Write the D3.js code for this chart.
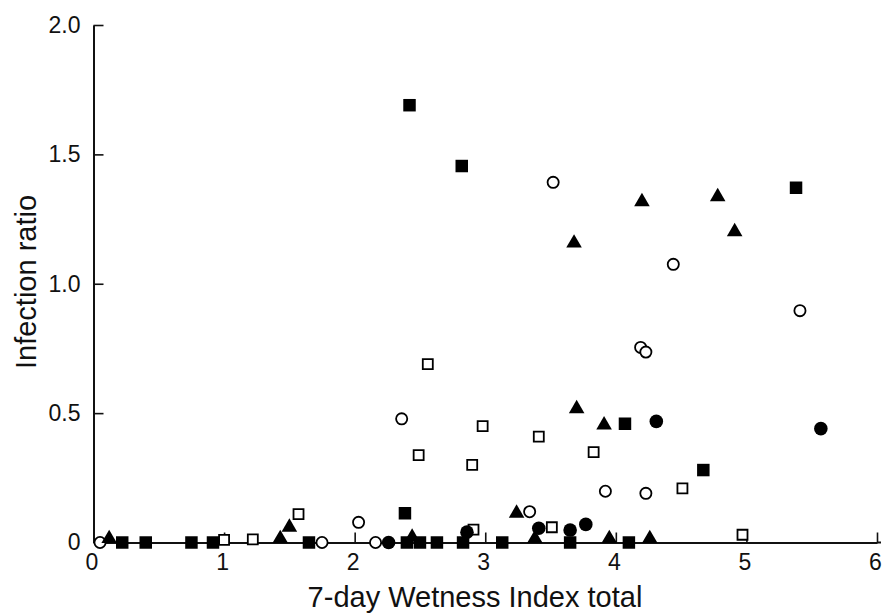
<!DOCTYPE html>
<html>
<head>
<meta charset="utf-8">
<script src="https://cdn.jsdelivr.net/npm/d3@7"></script>
<style>
  body { margin: 0; background: #fff; }
  #chart { width: 887px; height: 616px; }
  .axis text { font-family: "Liberation Sans", Arial, sans-serif; fill: #111; }
  .axis path, .axis line { stroke: #111; }
  .title { font-family: "Liberation Sans", Arial, sans-serif; fill: #111; }
</style>
</head>
<body>
<div id="chart"></div>
<script>
// data
var xTicks = [0, 1, 2, 3, 4, 5, 6];
var yTicks = [0, 0.5, 1.0, 1.5, 2.0];
var yTickLabels = ['0', '0.5', '1.0', '1.5', '2.0'];

var openCircleX = [0.05, 1.75, 2.03, 2.16, 2.36, 3.34, 3.52, 3.92, 4.19, 4.23, 4.23, 4.44, 5.41];
var openCircleY = [0, 0, 0.078, 0, 0.478, 0.119, 1.392, 0.198, 0.754, 0.736, 0.19, 1.075, 0.896];

var openSquareX = [1.0, 1.22, 1.57, 2.49, 2.56, 2.90, 2.91, 2.98, 3.41, 3.51, 3.83, 4.51, 4.97];
var openSquareY = [0.01, 0.012, 0.11, 0.338, 0.689, 0.30, 0.05, 0.45, 0.409, 0.059, 0.349, 0.209, 0.03];

var filledSquareX = [0.22, 0.40, 0.75, 0.915, 1.65, 2.385, 2.40, 2.50, 2.63, 2.42, 2.82, 2.83, 3.13, 3.65, 4.07, 4.10, 4.67, 5.38];
var filledSquareY = [0, 0, 0, 0, 0, 0.113, 0, 0, 0, 1.69, 1.455, 0, 0, 0, 0.459, 0, 0.28, 1.371];

var filledTriangleX = [0.12, 1.43, 1.50, 2.44, 3.24, 3.38, 3.68, 3.70, 3.91, 3.95, 4.20, 4.26, 4.78, 4.91];
var filledTriangleY = [0.015, 0.015, 0.059, 0.02, 0.113, 0.015, 1.157, 0.517, 0.454, 0.015, 1.317, 0.015, 1.336, 1.201];

var filledCircleX = [2.26, 2.86, 3.41, 3.65, 3.77, 4.31, 5.57];
var filledCircleY = [0, 0.04, 0.055, 0.048, 0.07, 0.468, 0.44];

var width = 887;
var height = 616;

var svg = d3.select('#chart')
    .append('svg')
    .attr('width', width)
    .attr('height', height);

var x_scale = d3.scaleLinear()
    .domain([0, 6])
    .range([93.5, 877]);

var y_scale = d3.scaleLinear()
    .domain([0, 2])
    .range([542.5, 25]);

// y axis, ticks point inward
var y_axis = d3.axisLeft(y_scale)
    .tickValues(yTicks)
    .tickFormat(function(d, i) { return yTickLabels[i]; })
    .tickSizeInner(-10)
    .tickSizeOuter(0)
    .tickPadding(13);

svg.append('g')
    .attr('class', 'y axis')
    .attr('transform', 'translate(' + x_scale(0) + ',0)')
    .call(y_axis);

var x_axis = d3.axisBottom(x_scale)
    .tickValues(xTicks)
    .tickFormat(d3.format('d'))
    .tickSizeInner(-10)
    .tickSizeOuter(0)
    .tickPadding(11);

svg.append('g')
    .attr('class', 'x axis')
    .attr('transform', 'translate(0,' + y_scale(0) + ')')
    .call(x_axis);

// x axis line runs a bit past the last tick
svg.append('line')
    .attr('x1', x_scale(6))
    .attr('x2', x_scale(6) + 4)
    .attr('y1', y_scale(0))
    .attr('y2', y_scale(0))
    .attr('stroke', '#111')
    .attr('stroke-width', 2);

svg.selectAll('.axis .domain').attr('stroke-width', 2);
svg.selectAll('.axis .tick line').attr('stroke-width', 1.6);
svg.selectAll('.y.axis text').style('font-size', '23px');
svg.selectAll('.x.axis text').style('font-size', '23px').attr('dx', -2);

// axis titles
svg.append('text')
    .attr('class', 'title')
    .attr('x', 475)
    .attr('y', 607)
    .attr('text-anchor', 'middle')
    .style('font-size', '29px')
    .text('7-day Wetness Index total');

svg.append('text')
    .attr('class', 'title')
    .attr('transform', 'translate(36,282) rotate(-90)')
    .attr('text-anchor', 'middle')
    .style('font-size', '29px')
    .text('Infection ratio');

// series
var series = [
    { xs: openCircleX, ys: openCircleY, type: d3.symbolCircle, size: 98, filled: false },
    { xs: openSquareX, ys: openSquareY, type: d3.symbolSquare, size: 100, filled: false },
    { xs: filledSquareX, ys: filledSquareY, type: d3.symbolSquare, size: 156, filled: true },
    { xs: filledTriangleX, ys: filledTriangleY, type: d3.symbolTriangle, size: 105, filled: true },
    { xs: filledCircleX, ys: filledCircleY, type: d3.symbolCircle, size: 145, filled: true }
];

series.forEach(function(s) {
    var pts = s.xs.map(function(v, i) { return { x: v, y: s.ys[i] }; });
    svg.append('g')
        .selectAll('path')
        .data(pts)
        .enter()
        .append('path')
        .attr('d', d3.symbol().type(s.type).size(s.size))
        .attr('transform', function(d) {
            return 'translate(' + x_scale(d.x) + ',' + y_scale(d.y) + ')';
        })
        .attr('fill', s.filled ? '#000' : '#fff')
        .attr('stroke', s.filled ? 'none' : '#000')
        .attr('stroke-width', 1.8);
});
</script>
</body>
</html>
